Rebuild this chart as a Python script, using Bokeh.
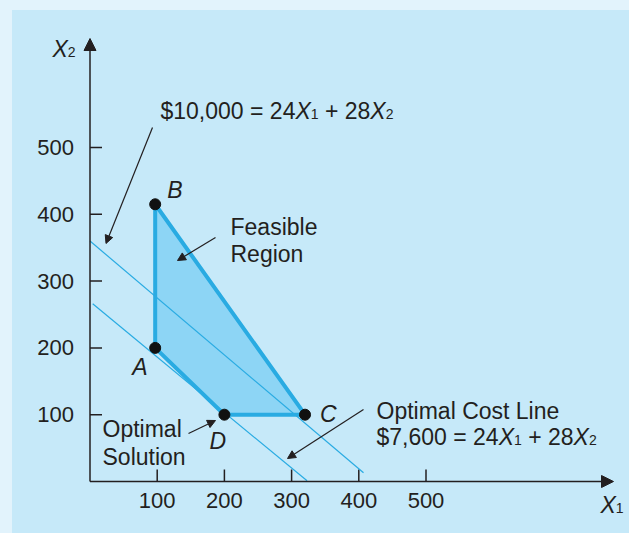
from bokeh.plotting import figure
from bokeh.models import Range1d, Label, Arrow, NormalHead
from bokeh.core.properties import value
from bokeh.embed import file_html
from bokeh.resources import INLINE

# ---------------- data ----------------
tick_values = [100, 200, 300, 400, 500]
tick_labels = ["100", "200", "300", "400", "500"]
corner_names = ["A", "B", "C", "D"]
corner_x1 = [97, 97, 320, 200]
corner_x2 = [200, 415, 100, 100]
line_10000_x1 = [0, 407]
line_10000_x2 = [360, 13]
line_7600_x1 = [4, 323]
line_7600_x2 = [266, 1]

# ---------------- layout ----------------
W, H = 629, 533
PX_X, PX_Y = 0.672, 0.668          # pixels per data unit
ORIGIN_PX, ORIGIN_PY = 89.5, 481   # page position of (0, 0)
BASE_FIX = 7                       # label baseline correction (px)

def gx(px):
    return (px - ORIGIN_PX) / PX_X

def gy(py):
    return (ORIGIN_PY - py) / PX_Y

INK = "#231f20"
BLUE = "#29abe2"
FILL = "#8dd5f5"
FONT = "Liberation Sans"
FS = 23
SUB = 14

p = figure(width=W, height=H,
           x_range=Range1d(gx(0), gx(W)), y_range=Range1d(gy(H), gy(0)),
           output_backend="svg", toolbar_location=None,
           x_axis_type=None, y_axis_type=None, min_border=0)
p.background_fill_alpha = 0
p.border_fill_alpha = 0
p.outline_line_color = None
p.grid.visible = False

# ---------------- axes ----------------
head = dict(fill_color=INK, line_color=INK)
p.add_layout(Arrow(x_start=0, y_start=0, x_end=gx(613), y_end=0, line_color=INK, line_width=1.5,
                   end=NormalHead(size=12, **head)))
p.add_layout(Arrow(x_start=0, y_start=0, x_end=0, y_end=gy(38), line_color=INK, line_width=1.5,
                   end=NormalHead(size=12, **head)))
tick_len_x = 12 / PX_Y
tick_len_y = 12 / PX_X
p.segment(x0=tick_values, y0=[0] * len(tick_values), x1=tick_values, y1=[tick_len_x] * len(tick_values),
          line_color=INK, line_width=1.5)
p.segment(x0=[0] * len(tick_values), y0=tick_values, x1=[tick_len_y] * len(tick_values), y1=tick_values,
          line_color=INK, line_width=1.5)
p.text(x=tick_values, y=[0] * len(tick_values), text=tick_labels, text_align="center",
       text_baseline="top", y_offset=11, text_font=value(FONT), text_font_size="22px", text_color=INK)
p.text(x=[0] * len(tick_values), y=tick_values, text=tick_labels, text_align="right",
       text_baseline="middle", x_offset=-16, text_font=value(FONT), text_font_size="22px", text_color=INK)

# ---------------- feasible region and cost lines ----------------
p.patch(corner_x1, corner_x2, fill_color=FILL, line_color=None)
p.line(line_10000_x1, line_10000_x2, line_color=BLUE, line_width=1.2)
p.line(line_7600_x1, line_7600_x2, line_color=BLUE, line_width=1.2)
p.patch(corner_x1, corner_x2, fill_alpha=0, line_color=BLUE, line_width=4)
p.scatter(corner_x1, corner_x2, size=11, color="#111111")

# corner letters (offsets in px from each corner)
letter_offsets = {"A": (-23, -26), "B": (12, 7), "C": (15, -6), "D": (-15, -33)}
for name, cx, cy in zip(corner_names, corner_x1, corner_x2):
    dx, dy = letter_offsets[name]
    p.add_layout(Label(x=cx, y=cy, x_offset=dx, y_offset=dy + BASE_FIX, text=name,
                       text_font=FONT, text_font_size=f"{FS}px", text_font_style="italic",
                       text_color=INK, text_baseline="alphabetic"))

# ---------------- texts ----------------
def add_text(px, py, text, size=FS, style="normal"):
    p.add_layout(Label(x=gx(px), y=gy(py - BASE_FIX), text=text, text_font=FONT,
                       text_font_size=f"{size}px", text_font_style=style,
                       text_color=INK, text_baseline="alphabetic"))

add_text(230, 233, "Feasible")
add_text(230, 260, "Region")
add_text(102, 435, "Optimal")
add_text(102, 463, "Solution")
add_text(376, 417, "Optimal Cost Line")

WIDTHS = {"$": .556, ",": .278, " ": .278, "=": .584, "+": .584, "X": .667}

def text_width(s, size):
    return sum(WIDTHS.get(ch, .556) for ch in s) * size

def add_pieces(px, py, pieces):
    x = px
    for txt, kind in pieces:
        size = SUB if kind == "s" else FS
        lead = len(txt) - len(txt.lstrip(" "))
        x += lead * .278 * size
        body = txt.strip(" ")
        if body:
            if kind == "s":
                add_text(x, py + 3, body, size=SUB)
            elif kind == "i":
                add_text(x, py, body, style="italic")
            else:
                add_text(x, py, body)
        x += text_width(txt.lstrip(" "), size)

add_pieces(160, 117, [("$10,000 = 24", "n"), ("X", "i"), ("1", "s"), (" + 28", "n"), ("X", "i"), ("2", "s")])
add_pieces(376, 443, [("$7,600 = 24", "n"), ("X", "i"), ("1", "s"), (" + 28", "n"), ("X", "i"), ("2", "s")])
add_pieces(52, 55, [("X", "i"), ("2", "s")])
add_pieces(600, 511, [("X", "i"), ("1", "s")])

# ---------------- annotation arrows ----------------
def add_arrow(p0, p1):
    p.add_layout(Arrow(x_start=gx(p0[0]), y_start=gy(p0[1]), x_end=gx(p1[0]), y_end=gy(p1[1]),
                       line_color=INK, line_width=1.2,
                       end=NormalHead(size=8, fill_color=INK, line_color=INK)))

add_arrow((152, 127), (105.5, 243))
add_arrow((215, 237), (177, 260))
add_arrow((188, 433), (215, 420))
add_arrow((363, 409), (287, 458))

html = file_html(p, INLINE, "Linear programming")
css = ("<style>html,body{background:"
       "linear-gradient(#e2f3fc,#e2f3fc) 0 0/100% 10px no-repeat,"
       "linear-gradient(#e2f3fc,#e2f3fc) 0 0/12px 100% no-repeat,#c6e9f9;}</style>")
html = html.replace("</head>", css + "</head>", 1)
open("out.html", "w").write(html)
